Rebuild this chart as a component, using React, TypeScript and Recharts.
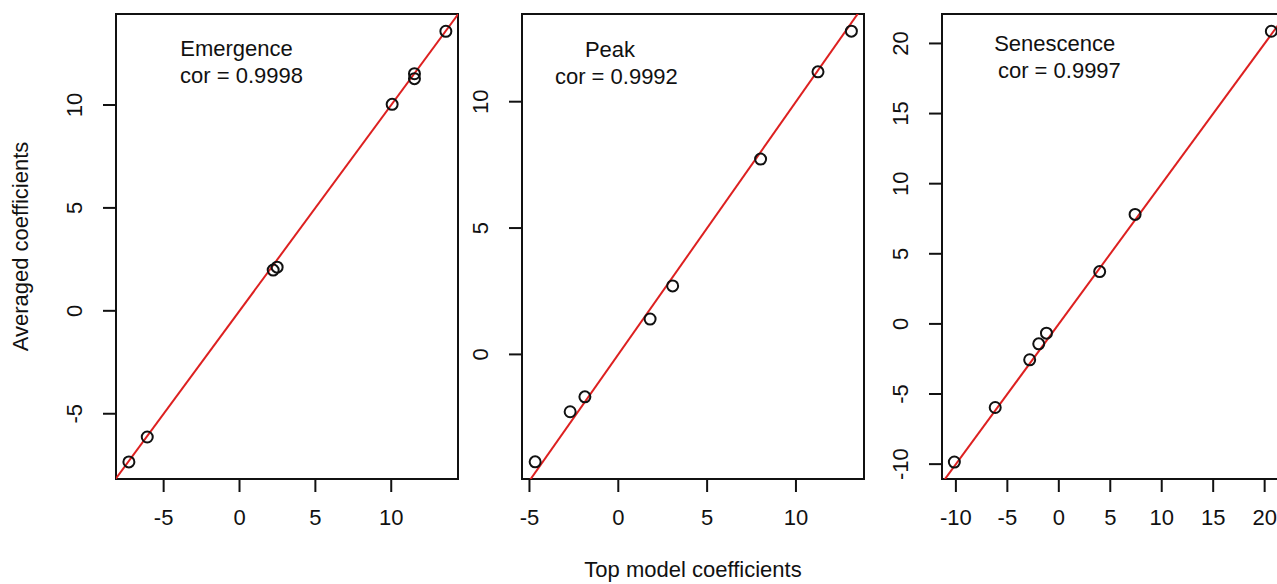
import React from 'react';
import { ScatterChart, Scatter, XAxis, YAxis, ReferenceLine, ReferenceArea } from 'recharts';

// panel labels
const panelNames = ['Emergence', 'Peak', 'Senescence'];
const corLabels = ['cor = 0.9998', 'cor = 0.9992', 'cor = 0.9997'];

// Emergence: top model vs averaged coefficients
const emergenceTop = [13.6, 11.53, 11.53, 10.06, 2.22, 2.48, -6.08, -7.29];
const emergenceAvg = [13.58, 11.52, 11.28, 10.03, 1.98, 2.12, -6.13, -7.34];

// Peak
const peakTop = [13.12, 11.24, 8.01, 3.06, 1.79, -1.88, -2.71, -4.68];
const peakAvg = [12.79, 11.18, 7.73, 2.71, 1.4, -1.68, -2.27, -4.25];

// Senescence
const senTop = [20.65, 7.41, 3.97, -1.2, -1.95, -2.83, -6.18, -10.15];
const senAvg = [20.87, 7.81, 3.73, -0.66, -1.42, -2.56, -5.96, -9.85];

// axis ticks
const emergenceXTicks = [-5, 0, 5, 10];
const emergenceYTicks = [-5, 0, 5, 10];
const peakXTicks = [-5, 0, 5, 10];
const peakYTicks = [0, 5, 10];
const senXTicks = [-10, -5, 0, 5, 10, 15, 20];
const senYTicks = [-10, -5, 0, 5, 10, 15, 20];

const FONT = '"Liberation Sans", Arial, Helvetica, sans-serif';
const INK = '#111';
const RED = '#dd2020';

const BOX_W = 342;
const BOX_H = 465;
const AXIS_W = 116;
const TOP = 14;
const CHART_W = AXIS_W + BOX_W + 12;
const CHART_H = 584;

type Note = { text: string; x: number; y: number };

interface PanelProps {
  left: number;
  xs: number[];
  ys: number[];
  xDomain: [number, number];
  yDomain: [number, number];
  xTicks: number[];
  yTicks: number[];
  notes: Note[];
  extra?: React.ReactNode;
}

const XTick = (p: any) => (
  <text x={p.x} y={p.y + 31} textAnchor="middle" fontSize={22} fontFamily={FONT} fill={INK}>
    {p.payload.value}
  </text>
);

const YTick = (p: any) => (
  <text
    x={p.x - 19}
    y={p.y}
    transform={`rotate(-90 ${p.x - 19} ${p.y})`}
    textAnchor="middle"
    fontSize={22}
    fontFamily={FONT}
    fill={INK}
  >
    {p.payload.value}
  </text>
);

const Circle = (p: any) => (
  <circle cx={p.cx} cy={p.cy} r={5.5} fill="none" stroke={INK} strokeWidth={2} />
);

const Panel: React.FC<PanelProps> = ({ left, xs, ys, xDomain, yDomain, xTicks, yTicks, notes, extra }) => {
  const data = xs.map((x, i) => ({ x, y: ys[i] }));
  const lo = Math.min(xDomain[0], yDomain[0]) - 1;
  const hi = Math.max(xDomain[1], yDomain[1]) + 1;
  return (
    <div style={{ position: 'absolute', left, top: 0 }}>
      <ScatterChart width={CHART_W} height={CHART_H} margin={{ top: TOP, right: 12, bottom: 0, left: 0 }}>
        <XAxis
          type="number"
          dataKey="x"
          domain={xDomain}
          ticks={xTicks}
          allowDataOverflow
          height={CHART_H - TOP - BOX_H}
          axisLine={false}
          tickSize={13}
          tickLine={{ stroke: INK, strokeWidth: 2 }}
          tick={XTick}
          interval={0}
        />
        <YAxis
          type="number"
          dataKey="y"
          domain={yDomain}
          ticks={yTicks}
          allowDataOverflow
          width={AXIS_W}
          axisLine={false}
          tickSize={13}
          tickLine={{ stroke: INK, strokeWidth: 2 }}
          tick={YTick}
          interval={0}
        />
        <ReferenceArea
          x1={xDomain[0]}
          x2={xDomain[1]}
          y1={yDomain[0]}
          y2={yDomain[1]}
          fill="none"
          fillOpacity={0}
          stroke={INK}
          strokeWidth={2}
          ifOverflow="visible"
        />
        <Scatter data={data} shape={Circle} isAnimationActive={false} />
        <ReferenceLine
          segment={[{ x: lo, y: lo }, { x: hi, y: hi }]}
          stroke={RED}
          strokeWidth={2}
          ifOverflow="hidden"
        />
        {notes.map((n, i) => (
          <text key={i} x={n.x} y={n.y} textAnchor="middle" fontSize={22} fontFamily={FONT} fill={INK}>
            {n.text}
          </text>
        ))}
        {extra}
      </ScatterChart>
    </div>
  );
};

export default function App() {
  return (
    <div
      style={{
        position: 'absolute',
        left: 0,
        top: 0,
        width: 1277,
        height: 584,
        overflow: 'hidden',
        background: '#fff',
      }}
    >
      <Panel
        left={0}
        xs={emergenceTop}
        ys={emergenceAvg}
        xDomain={[-8.14, 14.4]}
        yDomain={[-8.17, 14.42]}
        xTicks={emergenceXTicks}
        yTicks={emergenceYTicks}
        notes={[
          { text: panelNames[0], x: 236.5, y: 56 },
          { text: corLabels[0], x: 241.5, y: 82.5 },
        ]}
        extra={
          <text
            x={-246.5}
            y={28}
            transform="rotate(-90)"
            textAnchor="middle"
            fontSize={22}
            fontFamily={FONT}
            fill={INK}
          >
            Averaged coefficients
          </text>
        }
      />
      <Panel
        left={406.3}
        xs={peakTop}
        ys={peakAvg}
        xDomain={[-5.42, 13.83]}
        yDomain={[-4.93, 13.47]}
        xTicks={peakXTicks}
        yTicks={peakYTicks}
        notes={[
          { text: panelNames[1], x: 204, y: 56.5 },
          { text: corLabels[1], x: 210.4, y: 84 },
        ]}
        extra={
          <text x={AXIS_W + BOX_W / 2} y={577} textAnchor="middle" fontSize={22} fontFamily={FONT} fill={INK}>
            Top model coefficients
          </text>
        }
      />
      <Panel
        left={826.3}
        xs={senTop}
        ys={senAvg}
        xDomain={[-11.35, 21.88]}
        yDomain={[-11.06, 22.1]}
        xTicks={senXTicks}
        yTicks={senYTicks}
        notes={[
          { text: panelNames[2], x: 228.7, y: 51 },
          { text: corLabels[2], x: 233.4, y: 77.5 },
        ]}
      />
    </div>
  );
}
